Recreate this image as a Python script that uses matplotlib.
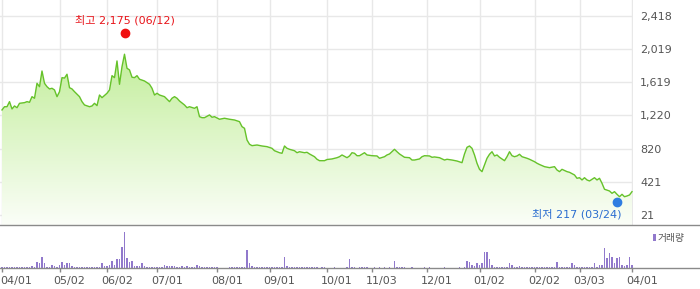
import matplotlib.pyplot as plt
import numpy as np
from matplotlib.colors import LinearSegmentedColormap
from matplotlib.lines import Line2D
from matplotlib.patches import Rectangle
from matplotlib.transforms import ScaledTranslation

plt.rcParams["font.family"] = ["DejaVu Sans", "Noto Sans CJK KR"]

# trading-day index -> close price
days = [
    0, 1, 2, 3, 4, 5, 6, 7, 9, 10, 11, 12, 13, 14, 15, 16, 17, 18, 19, 20,
    21, 22, 23, 24, 25, 26, 27, 28, 29, 31, 32, 33, 35, 36, 37, 38, 39, 40, 42, 43,
    44, 45, 46, 47, 48, 49, 50, 51, 52, 53, 54, 55, 57, 58, 59, 60, 61, 62, 63, 65,
    67, 68, 69, 70, 71, 73, 74, 75, 77, 78, 79, 80, 81, 83, 84, 85, 87, 89, 91, 93,
    95, 96, 97, 98, 99, 100, 102, 104, 106, 108, 109, 111, 112, 113, 114, 115, 117, 118, 119, 121,
    122, 123, 125, 126, 127, 129, 130, 132, 134, 135, 136, 138, 139, 140, 141, 142, 143, 145, 146, 148,
    150, 151, 153, 154, 155, 157, 158, 159, 161, 163, 164, 165, 167, 168, 169, 171, 172, 173, 175, 177,
    178, 180, 182, 184, 185, 186, 187, 188, 189, 190, 191, 192, 193, 194, 195, 196, 197, 198, 199, 200,
    201, 202, 203, 204, 205, 206, 207, 208, 210, 211, 213, 214, 215, 217, 219, 221, 222, 223, 224, 226,
    227, 229, 230, 231, 232, 233, 234, 235, 237, 238, 239, 240, 241, 243, 244, 245, 246, 247, 248, 249,
    250, 251, 252,
]
closes = [
    1286, 1325, 1325, 1386, 1298, 1334, 1313, 1366, 1374, 1386, 1378, 1446, 1427, 1607, 1566, 1755, 1607, 1566, 1539, 1547,
    1527, 1446, 1506, 1675, 1670, 1716, 1554, 1539, 1506, 1446, 1386, 1346, 1325, 1334, 1366, 1338, 1466, 1434, 1487, 1527,
    1699, 1675, 1876, 1595, 1807, 1957, 1788, 1768, 1680, 1675, 1699, 1656, 1635, 1615, 1595, 1547, 1466, 1487, 1466, 1446,
    1386, 1427, 1446, 1427, 1394, 1346, 1313, 1325, 1306, 1325, 1205, 1193, 1193, 1226, 1198, 1205, 1174, 1186, 1174, 1165,
    1145, 1085, 1065, 924, 873, 856, 864, 852, 844, 824, 795, 771, 764, 852, 824, 812, 795, 771, 783, 771,
    776, 756, 723, 692, 675, 675, 689, 696, 711, 723, 744, 711, 732, 771, 764, 735, 735, 771, 744, 735,
    732, 704, 723, 744, 756, 812, 783, 756, 716, 711, 683, 683, 696, 723, 735, 732, 716, 720, 711, 683,
    692, 683, 671, 651, 756, 836, 852, 824, 744, 644, 571, 543, 623, 704, 752, 783, 732, 744, 716, 696,
    675, 723, 783, 735, 723, 732, 752, 723, 704, 692, 663, 644, 629, 603, 591, 603, 563, 543, 571, 543,
    535, 503, 463, 470, 443, 470, 443, 431, 470, 443, 463, 403, 331, 310, 282, 302, 270, 241, 270, 241,
    250, 262, 302,
]

# daily volume, one value per trading day 0..252 (relative units)
volume = [
    4, 4, 4, 4, 4, 4, 4, 4, 4, 4,
    4, 4, 7, 4, 17, 14, 34, 14, 4, 4,
    10, 7, 4, 10, 19, 10, 14, 14, 7, 4,
    4, 4, 4, 4, 4, 4, 4, 4, 4, 4,
    14, 5, 5, 9, 22, 10, 28, 28, 64, 109,
    31, 17, 22, 7, 7, 7, 14, 7, 4, 4,
    4, 4, 4, 4, 4, 10, 5, 7, 7, 7,
    4, 4, 7, 4, 7, 4, 4, 4, 10, 7,
    4, 4, 4, 4, 4, 4, 4, 0, 0, 0,
    0, 4, 4, 4, 4, 4, 4, 4, 53, 14,
    7, 4, 4, 4, 4, 4, 4, 4, 4, 4,
    4, 4, 4, 34, 7, 4, 4, 4, 4, 4,
    4, 4, 4, 4, 4, 4, 4, 0, 4, 4,
    0, 0, 0, 4, 0, 0, 0, 0, 4, 26,
    4, 4, 0, 4, 4, 4, 4, 0, 0, 4,
    0, 4, 0, 4, 0, 4, 0, 22, 4, 4,
    4, 4, 0, 0, 4, 0, 0, 0, 0, 4,
    0, 4, 0, 0, 0, 0, 0, 4, 0, 0,
    0, 0, 0, 4, 0, 4, 22, 17, 10, 7,
    14, 10, 14, 47, 47, 26, 10, 4, 4, 4,
    4, 4, 4, 14, 10, 4, 4, 7, 4, 4,
    4, 4, 4, 4, 4, 4, 4, 4, 4, 4,
    4, 4, 17, 4, 4, 4, 4, 4, 14, 10,
    4, 4, 4, 4, 4, 4, 4, 14, 4, 10,
    10, 59, 29, 44, 32, 14, 29, 34, 10, 7,
    10, 34, 10,
]

tick_days = [0, 23, 42, 62, 86, 107, 130, 148, 170, 191, 213, 231, 252]
tick_labels = ["04/01", "05/02", "06/02", "07/01", "08/01", "09/01", "10/01",
               "11/03", "12/01", "01/02", "02/02", "03/03", "04/01"]
price_ticks = [21, 421, 820, 1220, 1619, 2019, 2418]

high_day, high_value, high_label = 49, 2175, "최고 2,175 (06/12)"
low_day, low_value, low_label = 246, 217, "최저 217 (03/24)"

W, H = 700, 289
fig = plt.figure(figsize=(W / 100, H / 100), dpi=100)
ax = fig.add_axes([0, (H - 225) / H, 633 / W, 225 / H])
vax = fig.add_axes([0, (H - 268) / H, 633 / W, 43 / H])

xlim = (-0.8, 252.4)
ylim = (-99.5, 2610)

# gradient fill under the price line
cmap = LinearSegmentedColormap.from_list("g", ["#fbfef8", "#c3ee9c"])
poly = ax.fill_between(days, closes, ylim[0], color="none", lw=0)
grad = np.linspace(0, 1, 256).reshape(-1, 1)
im = ax.imshow(grad, cmap=cmap, aspect="auto", origin="lower",
               extent=[xlim[0], xlim[1], ylim[0], max(closes)], zorder=1)
im.set_clip_path(poly.get_paths()[0], transform=ax.transData)
ax.plot(days, closes, color="#66c22a", lw=1.0, zorder=3)

ax.set_xlim(*xlim)
ax.set_ylim(*ylim)
ax.set_xticks(tick_days)
ax.set_yticks(price_ticks)
ax.set_yticklabels([f"{v:,}" for v in price_ticks])
ax.yaxis.tick_right()
ax.tick_params(axis="y", length=0, pad=5, labelsize=8, labelcolor="#555555")
ax.tick_params(axis="x", length=0, labelbottom=False)
ax.grid(True, color="#e8e8e8", lw=1, zorder=0)
ax.set_axisbelow(True)
for s in ax.spines.values():
    s.set_visible(False)

# high / low markers (dots sit a few pixels outside the value)
px = fig.dpi_scale_trans
ax.plot([high_day], [high_value], "o", ms=6, color="#f01010", zorder=4,
        transform=ax.transData + ScaledTranslation(0, 3 / 100, px))
ax.annotate(high_label, (high_day, high_value), xytext=(0, 16), textcoords="offset pixels",
            ha="center", va="center", fontsize=8, color="#e8141a")
ax.plot([low_day], [low_value], "o", ms=6, color="#2f7de1", zorder=4,
        transform=ax.transData + ScaledTranslation(0, -3.5 / 100, px))
ax.annotate(low_label, (low_day, low_value), xytext=(4, -16), textcoords="offset pixels",
            ha="right", va="center", fontsize=8, color="#2a6dd0")

# volume panel
vax.bar(range(len(volume)), volume, width=0.45, color="#9179cc")
vax.set_xlim(*xlim)
vax.set_ylim(0, 129)
vax.set_yticks([])
vax.set_xticks(tick_days)
vax.set_xticklabels(tick_labels)
vax.tick_params(axis="x", length=3, width=1, color="#888888", pad=3,
                labelsize=8, labelcolor="#555555")
# date labels sit ~10px right of their tick marks
for i, lab in enumerate(vax.get_xticklabels()):
    shift = 14 if i == 0 else 10
    lab.set_transform(lab.get_transform() + ScaledTranslation(shift / 100, 0, px))
for s in vax.spines.values():
    s.set_visible(False)

# separator lines across the full width
for y in (225, 268):
    fig.add_artist(Line2D([0, 1], [1 - y / H, 1 - y / H], transform=fig.transFigure,
                          color="#8a8a8a", lw=1))

# volume legend
fig.add_artist(Rectangle((653 / W, 1 - 241 / H), 3 / W, 7 / H, transform=fig.transFigure,
                         color="#9179cc", lw=0))
fig.text(658 / W, 1 - 237.5 / H, "거래량", fontsize=7, color="#555555",
         family=["Noto Sans CJK KR", "DejaVu Sans"], va="center", ha="left")

fig.savefig("out.png", dpi=100)
